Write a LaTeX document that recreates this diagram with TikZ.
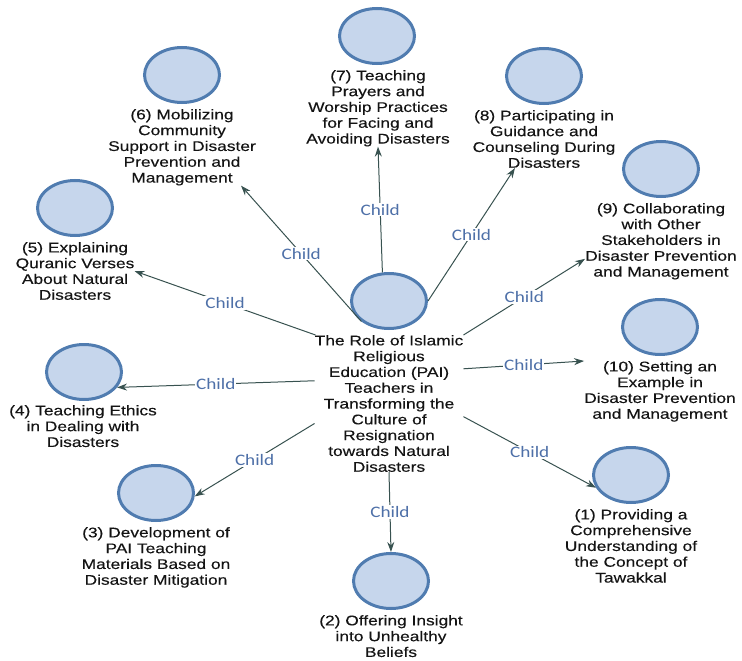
\documentclass[tikz,border=0pt]{standalone}
\usepackage{fontspec}
\usetikzlibrary{shapes.geometric,arrows.meta}
\newfontfamily\nodefont{Liberation Sans}[FakeStretch=1.24,FakeBold=0.3]
\newfontfamily\edgefont{Carlito}[FakeStretch=1.2]
\definecolor{circlefill}{RGB}{198,214,236}
\definecolor{circleline}{RGB}{80,124,176}
\definecolor{edgegray}{RGB}{56,82,80}
\definecolor{childblue}{RGB}{78,112,168}
\tikzstyle{topic} = [ellipse, minimum width=75pt, minimum height=55pt, inner sep=0, fill=circlefill, draw=circleline, line width=3pt]
\tikzstyle{topictext} = [anchor=north, align=center, inner sep=0, text=black!92, font=\nodefont\fontsize{14}{15.8}\selectfont]
\tikzstyle{childedge} = [-{Stealth[length=10pt,width=7pt]}, edgegray, line width=1pt]
\tikzstyle{childlabel} = [midway, fill=white, inner sep=1pt, text=childblue, font=\edgefont\fontsize{16}{16}\selectfont]

\begin{document}
\begin{tikzpicture}[x=1pt,y=-1pt]
\useasboundingbox (0,0) rectangle (742,661);

% Root: the role of PAI teachers
\node (role) at (389,301) [topic] {};
\node (roletxt) at (389,335) [topictext] {The Role of Islamic\\Religious\\Education (PAI)\\Teachers in\\Transforming the\\Culture of\\Resignation\\towards Natural\\Disasters};

% (7) prayers and worship
\node (prayer) at (377,36) [topic] {};
\node (prayertxt) at (378,70) [topictext] {(7) Teaching\\Prayers and\\Worship Practices\\for Facing and\\Avoiding Disasters};

% (8) guidance and counseling
\node (guid) at (544,76) [topic] {};
\node (guidtxt) at (544,110) [topictext] {(8) Participating in\\Guidance and\\Counseling During\\Disasters};

% (6) community support
\node (mob) at (182,75) [topic] {};
\node (mobtxt) at (182,109) [topictext] {(6) Mobilizing\\Community\\Support in Disaster\\Prevention and\\Management};

% (9) stakeholders
\node (collab) at (661,169) [topic] {};
\node (collabtxt) at (661,203) [topictext] {(9) Collaborating\\with Other\\Stakeholders in\\Disaster Prevention\\and Management};

% (5) quranic verses
\node (quran) at (75,208) [topic] {};
\node (qurantxt) at (75,242) [topictext] {(5) Explaining\\Quranic Verses\\About Natural\\Disasters};

% (4) ethics
\node (ethics) at (84,372) [topic] {};
\node (ethicstxt) at (83,405) [topictext] {(4) Teaching Ethics\\in Dealing with\\Disasters};

% (10) setting an example
\node (example) at (660,327) [topic] {};
\node (exampletxt) at (660,361) [topictext] {(10) Setting an\\Example in\\Disaster Prevention\\and Management};

% (3) teaching materials
\node (material) at (156,493) [topic] {};
\node (materialtxt) at (156,527) [topictext] {(3) Development of\\PAI Teaching\\Materials Based on\\Disaster Mitigation};

% (2) unhealthy beliefs
\node (insight) at (391,581) [topic] {};
\node (insighttxt) at (391,615) [topictext] {(2) Offering Insight\\into Unhealthy\\Beliefs};

% (1) tawakkal
\node (tawakkal) at (631,475) [topic] {};
\node (tawakkaltxt) at (631,509) [topictext] {(1) Providing a\\Comprehensive\\Understanding of\\the Concept of\\Tawakkal};

% Child edges
\draw[childedge] (role.103) -- (prayertxt.south) node[childlabel] {Child};
\draw[childedge] (role.east) -- (guidtxt.-135) node[childlabel] {Child};
\draw[childedge] (role.south west) -- (mobtxt.-33) node[childlabel] {Child};
\draw[childedge] (roletxt.north east) -- (collabtxt.193) node[childlabel] {Child};
\draw[childedge] (roletxt.137) -- (qurantxt.east) node[childlabel] {Child};
\draw[childedge] (roletxt.163) -- (ethics.-25) node[childlabel] {Child};
\draw[childedge] (roletxt.25) -- (exampletxt.north west) node[childlabel] {Child};
\draw[childedge] (roletxt.195) -- (material.-5) node[childlabel] {Child};
\draw[childedge] (roletxt.south) -- (insight.north) node[childlabel] {Child};
\draw[childedge] (roletxt.-10) -- (tawakkal.200) node[childlabel] {Child};

\end{tikzpicture}
\end{document}
